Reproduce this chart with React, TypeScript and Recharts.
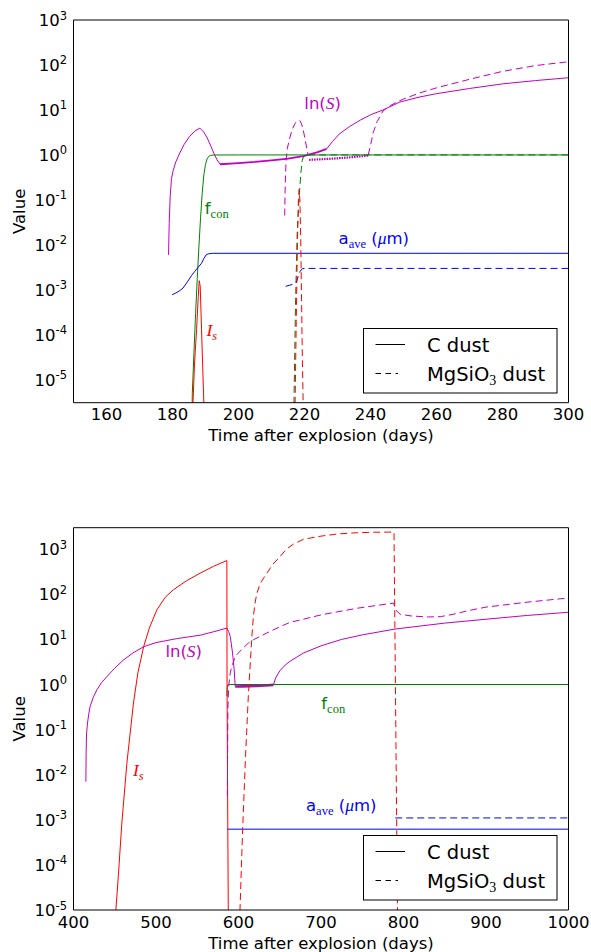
import React from 'react';
import { LineChart, Line, XAxis, YAxis, ReferenceDot, Legend, Label } from 'recharts';

// ---------- colours & fonts ----------
const MAGENTA = '#bf00bf';
const GREEN = '#008000';
const BLUE = '#0000ff';
const RED = '#ff0000';
const SANS = '"DejaVu Sans", sans-serif';
const SERIF = '"Liberation Serif", "DejaVu Serif", serif';
const DASH = '7 4';

// ---------- axes ----------
const earlyTimeTicks = [160, 180, 200, 220, 240, 260, 280, 300];
const lateTimeTicks = [400, 500, 600, 700, 800, 900, 1000];
const earlyDecades = [-5, -4, -3, -2, -1, 0, 1, 2, 3];
const lateDecades = [-5, -4, -3, -2, -1, 0, 1, 2, 3];
const minorSteps = [2, 3, 4, 5, 6, 7, 8, 9];

// ---------- early epoch (days 150-300): [day, value] ----------
const carbonLnSEarlyRise = [
  [178.8, 0.006], [179.0, 0.03], [179.3, 0.12], [179.7, 0.3], [180.2, 0.45], [181, 0.7],
  [182.2, 1.1], [183.5, 1.7], [185.2, 2.6], [186.8, 3.4], [188.3, 3.95], [189.5, 3.2],
  [190.5, 2.4], [191.5, 1.65], [192.5, 1.1], [193.5, 0.78], [194.4, 0.62],
];
const carbonLnSEarlyPlateau = [
  [194.4, 0.62], [200, 0.66], [205, 0.7], [210, 0.76], [215, 0.83], [220, 0.95], [224, 1.15], [226.7, 1.36],
];
const carbonLnSEarlyGrowth = [
  [226.7, 1.36], [228.5, 2.0], [230.5, 2.9], [233.7, 4.3], [237, 6.0], [240, 7.8], [243.8, 10],
  [248.9, 15], [255, 19.5], [260, 23], [270, 30], [280, 38], [290, 45], [300, 52],
];
const carbonFconEarly = [
  [185.7, 1e-7], [186.0, 5e-6], [186.5, 4e-5], [187.0, 3e-4], [187.5, 1.8e-3], [188.0, 9e-3],
  [188.5, 0.04], [189.0, 0.14], [189.5, 0.36], [190.0, 0.62], [190.5, 0.82], [191.0, 0.93],
  [191.5, 0.975], [192.5, 0.997], [200, 1], [300, 1],
];
const carbonSizeEarly = [
  [179.9, 7.8e-4], [181, 8.5e-4], [182.2, 9.6e-4], [183.2, 1.1e-3], [184.5, 1.5e-3], [185.8, 2.1e-3],
  [186.8, 2.6e-3], [187.8, 3.2e-3], [188.8, 3.9e-3], [189.5, 5.0e-3], [190.2, 6.0e-3], [190.8, 6.3e-3],
  [192, 6.5e-3], [300, 6.5e-3],
];
const carbonRateEarly = [
  [186.0, 1e-7], [186.2, 3e-6], [186.7, 2.5e-5], [187.3, 1.3e-4], [187.8, 7e-4], [188.1, 1.6e-3],
  [188.4, 1.2e-3], [188.8, 1.3e-4], [189.2, 1.5e-5], [189.5, 3e-6], [189.7, 1e-7],
];
const silicateLnSEarlyPeak = [
  [214.0, 0.045], [214.15, 0.2], [214.4, 0.7], [214.8, 1.4], [215.6, 2.5], [216.3, 3.7], [217.1, 5.0],
  [217.9, 5.7], [218.6, 5.8], [219.1, 4.9], [219.6, 3.6], [220.1, 2.4], [220.6, 1.5], [221.1, 1.0],
];
const silicateLnSEarlyNoisy = [
  [221.4, 0.78], [225, 0.8], [230, 0.84], [235, 0.9], [239.3, 0.97],
];
const silicateLnSEarlyGrowth = [
  [239.3, 1.0], [240, 1.6], [240.8, 3.1], [242, 5.5], [243.8, 9.5], [246, 12.5], [248, 15],
  [250, 17.5], [255, 24], [260, 31], [270, 48], [280, 72], [290, 97], [300, 118],
];
const silicateFconEarly = [
  [216.6, 1e-7], [216.8, 3e-6], [217.3, 6e-4], [217.8, 0.02], [218.4, 0.12], [218.9, 0.4],
  [219.3, 0.75], [219.8, 0.95], [220.5, 0.995], [222, 1], [300, 1],
];
const silicateSizeEarly = [
  [214.3, 1.2e-3], [215.5, 1.27e-3], [216.5, 1.33e-3], [217.4, 1.4e-3], [218.1, 2.0e-3],
  [218.7, 2.6e-3], [219.3, 2.95e-3], [220, 3.0e-3], [300, 3.0e-3],
];
const silicateRateEarly = [
  [217.0, 1e-7], [217.15, 3e-6], [217.5, 2e-4], [217.85, 0.01], [218.15, 0.1], [218.35, 0.17],
  [218.6, 0.1], [218.85, 0.015], [219.1, 6e-4], [219.35, 3e-5], [219.6, 3e-6], [219.7, 1e-7],
];

// ---------- late epoch (days 400-1000): [day, value] ----------
const carbonLnSLateRise = [
  [415, 0.007], [415.3, 0.03], [415.8, 0.08], [417, 0.14], [418.5, 0.22], [420.2, 0.33], [424, 0.52],
  [428.3, 0.76], [434, 1.1], [440.5, 1.5], [450, 2.3], [460.6, 3.5], [472, 5.0], [485, 6.9], [500, 8.5],
  [525, 10.4], [553.6, 12.4], [570, 14.8], [585.9, 17.8], [588, 15], [590, 11.6], [592.8, 5],
  [594.8, 2.1], [596, 0.9],
];
const carbonLnSLatePlateau = [
  [596, 0.9], [605, 0.91], [620, 0.93], [632, 0.95], [642.4, 0.98],
];
const carbonLnSLateGrowth = [
  [642.4, 0.98], [645, 1.4], [650, 2.0], [656.6, 2.7], [662.7, 3.3], [678.8, 5.0], [700, 7.2],
  [725, 10], [750, 12.6], [790, 17], [850, 23], [900, 28], [950, 34], [1000, 40],
];
const carbonFconLate = [
  [586, 0.55], [586.3, 0.85], [586.8, 0.97], [587.5, 1], [1000, 1],
];
const carbonSizeLate = [
  [586, 6.2e-4], [1000, 6.2e-4],
];
const carbonRateLate = [
  [450.5, 1e-6], [451.4, 1e-5], [454.6, 6.6e-5], [458.6, 8.5e-4], [464.7, 0.018], [472.7, 0.39],
  [478, 1.8], [485, 6.9], [492, 18], [501, 45], [511, 85], [521, 126], [537, 200], [553.6, 295],
  [570, 420], [585.9, 560], [586.1, 1], [587.9, 1e-6],
];
const silicateLnSLate = [
  [586.5, 3.3e-3], [586.8, 0.03], [587.2, 0.3], [588, 0.9], [590, 1.8], [592, 2.6], [594, 3.2],
  [596, 4.2], [605, 6.3], [612, 8.3], [618, 9.8], [634, 13.8], [650, 19], [662.7, 24], [675, 27],
  [700, 35], [743.5, 49], [788, 64], [789.5, 52], [791, 44], [796, 36], [810, 33], [830, 31.5],
  [845, 32], [860, 36], [880, 44], [900, 52], [950, 67], [1000, 83],
];
const silicateFconLate = [
  [640, 1], [1000, 1],
];
const silicateSizeLate = [
  [790, 1.1e-3], [1000, 1.1e-3],
];
const silicateRateLate = [
  [601.5, 1e-6], [601.8, 1e-5], [605, 6e-4], [608.5, 0.025], [612, 0.6], [616, 10], [618, 32],
  [620, 63], [622, 100], [625, 148], [628, 195], [634.4, 295], [642, 470], [650.5, 690], [658, 1000],
  [666.7, 1300], [678.8, 1660], [700, 1950], [720, 2180], [743.5, 2320], [765, 2380], [788.5, 2400],
  [792.7, 1e-5], [792.9, 1e-7],
];

// ---------- in-plot annotations: [day, value] of the text centre ----------
const earlyNotes: [string, number, number][] = [
  ['lnS', 225.5, 14.4], ['fcon', 193.4, 0.066], ['aave', 241, 0.014], ['Is', 191.9, 1.3e-4],
];
const lateNotes: [string, number, number][] = [
  ['lnS', 533.6, 5.4], ['fcon', 714.8, 0.39], ['aave', 724.5, 2.15e-3], ['Is', 478.5, 0.0129],
];

const legendEntries = [
  { label: 'C dust', dashed: false },
  { label: 'MgSiO', sub: '3', tail: ' dust', dashed: true },
];

type Series = { id: string; rows: number[][]; color: string; dash?: string; width?: number };

const earlySeries: Series[] = [
  { id: 'cLnSRise', rows: carbonLnSEarlyRise, color: MAGENTA },
  { id: 'cLnSPlateau', rows: carbonLnSEarlyPlateau, color: MAGENTA, width: 1.8 },
  { id: 'cLnSGrowth', rows: carbonLnSEarlyGrowth, color: MAGENTA },
  { id: 'cFcon', rows: carbonFconEarly, color: GREEN },
  { id: 'cSize', rows: carbonSizeEarly, color: BLUE },
  { id: 'cRate', rows: carbonRateEarly, color: RED },
  { id: 'mLnSPeak', rows: silicateLnSEarlyPeak, color: MAGENTA, dash: DASH },
  { id: 'mLnSNoisy', rows: silicateLnSEarlyNoisy, color: MAGENTA, dash: '1.5 1', width: 2.2 },
  { id: 'mLnSGrowth', rows: silicateLnSEarlyGrowth, color: MAGENTA, dash: DASH },
  { id: 'mFcon', rows: silicateFconEarly, color: GREEN, dash: DASH },
  { id: 'mSize', rows: silicateSizeEarly, color: BLUE, dash: DASH },
  { id: 'mRate', rows: silicateRateEarly, color: RED, dash: DASH },
];

const lateSeries: Series[] = [
  { id: 'cLnSRise', rows: carbonLnSLateRise, color: MAGENTA },
  { id: 'cLnSPlateau', rows: carbonLnSLatePlateau, color: MAGENTA, width: 2.6 },
  { id: 'cLnSGrowth', rows: carbonLnSLateGrowth, color: MAGENTA },
  { id: 'cFcon', rows: carbonFconLate, color: GREEN },
  { id: 'cSize', rows: carbonSizeLate, color: BLUE },
  { id: 'cRate', rows: carbonRateLate, color: RED },
  { id: 'mLnS', rows: silicateLnSLate, color: MAGENTA, dash: DASH },
  { id: 'mFcon', rows: silicateFconLate, color: GREEN, dash: DASH },
  { id: 'mSize', rows: silicateSizeLate, color: BLUE, dash: DASH },
  { id: 'mRate', rows: silicateRateLate, color: RED, dash: DASH },
];

const toPoints = (rows: number[][]) => rows.map(([t, v]) => ({ t, v }));
const majorOf = (decades: number[]) => decades.map((d) => Math.pow(10, d));
const minorOf = (decades: number[], lo: number, hi: number) =>
  decades
    .flatMap((d) => minorSteps.map((m) => m * Math.pow(10, d)))
    .concat(minorSteps.map((m) => m * Math.pow(10, decades[0] - 1)))
    .filter((v) => v > lo && v < hi)
    .sort((a, b) => a - b);

// ---------- ticks, titles, notes ----------
function PowerTick(props: any) {
  const { x, y, payload } = props;
  const exp = Math.round(Math.log10(payload.value));
  return (
    <text x={x} y={y + 6} textAnchor="end" fontFamily={SANS} fontSize={16.5} fill="#000">
      10<tspan dy={-6.5} fontSize={11.5}>{exp}</tspan>
    </text>
  );
}

function TimeTick(props: any) {
  const { x, y, payload } = props;
  return (
    <text x={x} y={y + 17.6} textAnchor="middle" fontFamily={SANS} fontSize={16.5} fill="#000">
      {payload.value}
    </text>
  );
}

function XTitle(props: any) {
  const vb = props.viewBox || {};
  return (
    <text x={vb.x + vb.width / 2} y={vb.y + 38.5} textAnchor="middle" fontFamily={SANS} fontSize={16.5} fill="#000">
      Time after explosion (days)
    </text>
  );
}

function YTitle(props: any) {
  const vb = props.viewBox || {};
  const cx = vb.x + 20;
  const cy = vb.y + vb.height / 2;
  return (
    <text x={cx} y={cy} transform={`rotate(-90 ${cx} ${cy})`} textAnchor="middle" dominantBaseline="central"
      fontFamily={SANS} fontSize={16.5} fill="#000">
      Value
    </text>
  );
}

function noteBody(kind: string) {
  if (kind === 'lnS') {
    return {
      color: MAGENTA,
      body: (
        <>
          <tspan fontFamily={SANS}>ln(</tspan>
          <tspan fontFamily={SERIF} fontStyle="italic" fontSize={17.5}>S</tspan>
          <tspan fontFamily={SANS}>)</tspan>
        </>
      ),
    };
  }
  if (kind === 'fcon') {
    return {
      color: GREEN,
      body: (
        <>
          <tspan fontFamily={SANS}>f</tspan>
          <tspan fontFamily={SERIF} fontSize={12.5} dy={4}>con</tspan>
        </>
      ),
    };
  }
  if (kind === 'aave') {
    return {
      color: BLUE,
      body: (
        <>
          <tspan fontFamily={SANS}>a</tspan>
          <tspan fontFamily={SERIF} fontSize={12.5} dy={4}>ave</tspan>
          <tspan fontFamily={SANS} dy={-4}>{' ('}</tspan>
          <tspan fontFamily={SERIF} fontStyle="italic" fontSize={17.5}>μ</tspan>
          <tspan fontFamily={SANS}>m)</tspan>
        </>
      ),
    };
  }
  return {
    color: RED,
    body: (
      <>
        <tspan fontFamily={SERIF} fontStyle="italic" fontSize={17.5}>I</tspan>
        <tspan fontFamily={SERIF} fontStyle="italic" fontSize={12.5} dy={4}>s</tspan>
      </>
    ),
  };
}

function makeNoteLabel(kind: string) {
  return (props: any) => {
    const vb = props.viewBox || {};
    const { color, body } = noteBody(kind);
    return (
      <text x={vb.x} y={vb.y + 6} textAnchor="middle" fontSize={16.5} fill={color}>
        {body}
      </text>
    );
  };
}

function LegendBox() {
  const rowLine = [16.5, 45.5];
  const rowText = [24, 52.5];
  return (
    <svg width={196} height={67} style={{ display: 'block', overflow: 'visible' }}>
      <rect x={0.5} y={0.5} width={193.5} height={64.5} fill="#fff" stroke="#000" strokeWidth={1} />
      {legendEntries.map((e, i) => (
        <g key={e.label}>
          <line x1={12.5} x2={42} y1={rowLine[i]} y2={rowLine[i]} stroke="#000" strokeWidth={1}
            strokeDasharray={e.dashed ? '5.5 4.5 5.5 4.5 2.5 30' : undefined} />
          <text x={64} y={rowText[i]} fontFamily={SANS} fontSize={19.5} fill="#000">
            {e.label}
            {e.sub ? <tspan fontFamily={SERIF} fontSize={14} dy={4}>{e.sub}</tspan> : null}
            {e.tail ? <tspan dy={-4}>{e.tail}</tspan> : null}
          </text>
        </g>
      ))}
    </svg>
  );
}

// ---------- one log-scale panel ----------
type PanelProps = {
  top: number;
  height: number;
  marginTop: number;
  axisHeight: number;
  xDomain: [number, number];
  xTicks: number[];
  yDomain: [number, number];
  decades: number[];
  series: Series[];
  notes: [string, number, number][];
  legendTop: number;
};

function Panel(p: PanelProps) {
  const major = majorOf(p.decades);
  const minor = minorOf(p.decades, p.yDomain[0], p.yDomain[1]);
  const frameX = { type: 'number' as const, domain: p.xDomain, allowDataOverflow: true, ticks: p.xTicks, interval: 0 as const, tick: false, stroke: '#000', mirror: true };
  const frameY = { type: 'number' as const, scale: 'log' as const, domain: p.yDomain, allowDataOverflow: true, interval: 0 as const, tick: false, stroke: '#000', mirror: true };
  return (
    <div style={{ position: 'absolute', left: 0, top: p.top, width: 591, height: p.height }}>
      <LineChart width={591} height={p.height} margin={{ top: p.marginTop, right: 22.5, bottom: 0, left: 0 }}>
        <XAxis xAxisId="t" dataKey="t" type="number" domain={p.xDomain} allowDataOverflow ticks={p.xTicks}
          interval={0} height={p.axisHeight} tickLine={false} axisLine={false} tickSize={0} tickMargin={0}
          tick={<TimeTick />}>
          <Label content={<XTitle />} />
        </XAxis>
        <XAxis xAxisId="frameBottom" orientation="bottom" tickSize={4} {...frameX} />
        <XAxis xAxisId="frameTop" orientation="top" tickSize={4} {...frameX} />
        <YAxis yAxisId="v" type="number" scale="log" domain={p.yDomain} allowDataOverflow ticks={major}
          interval={0} width={73.5} tickLine={false} axisLine={false} tickSize={0} tickMargin={6.5}
          tick={<PowerTick />}>
          <Label content={<YTitle />} />
        </YAxis>
        <YAxis yAxisId="frameLeft" orientation="left" ticks={major} tickSize={4} {...frameY} />
        <YAxis yAxisId="frameLeftMinor" orientation="left" ticks={minor} tickSize={2} axisLine={false} {...frameY} />
        <YAxis yAxisId="frameRight" orientation="right" ticks={major} tickSize={4} {...frameY} />
        <YAxis yAxisId="frameRightMinor" orientation="right" ticks={minor} tickSize={2} axisLine={false} {...frameY} />
        {p.series.map((s) => (
          <Line key={s.id} xAxisId="t" yAxisId="v" data={toPoints(s.rows)} dataKey="v" type="linear"
            stroke={s.color} strokeWidth={s.width ?? 1} strokeDasharray={s.dash} dot={false}
            activeDot={false} isAnimationActive={false} legendType="none" />
        ))}
        {p.notes.map(([kind, t, v]) => (
          <ReferenceDot key={kind} xAxisId="t" yAxisId="v" x={t} y={v} r={0} fill="none" stroke="none"
            ifOverflow="visible" label={makeNoteLabel(kind)} />
        ))}
        <Legend layout="horizontal" verticalAlign="middle" align="center" content={() => <LegendBox />}
          wrapperStyle={{ left: 363, top: p.legendTop, width: 196, height: 67, lineHeight: 0 }} />
      </LineChart>
    </div>
  );
}

export default function App() {
  return (
    <div style={{ position: 'absolute', left: 0, top: 0, width: 591, height: 952, background: '#fff' }}>
      <Panel top={0} height={476} marginTop={20} axisHeight={73.3} xDomain={[150, 300]} xTicks={earlyTimeTicks}
        yDomain={[3.1e-6, 1000]} decades={earlyDecades} series={earlySeries} notes={earlyNotes} legendTop={327.5} />
      <Panel top={476} height={476} marginTop={51.7} axisHeight={42} xDomain={[400, 1000]} xTicks={lateTimeTicks}
        yDomain={[1e-5, 3000]} decades={lateDecades} series={lateSeries} notes={lateNotes} legendTop={359} />
    </div>
  );
}
